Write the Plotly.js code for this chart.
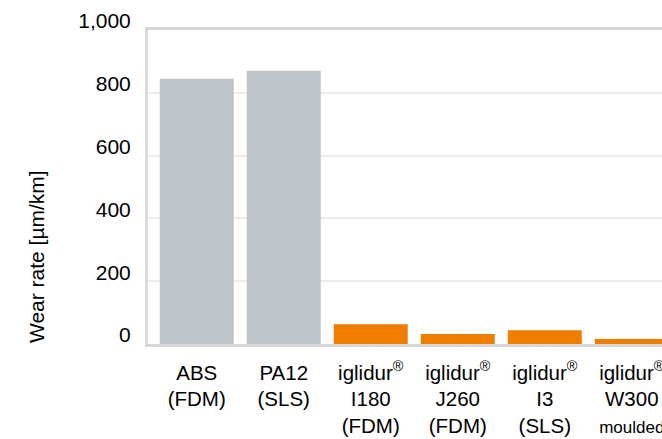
<!DOCTYPE html>
<html>
<head>
<meta charset="utf-8">
<script src="https://cdn.plot.ly/plotly-3.0.1.min.js"></script>
<style>
html, body { margin: 0; padding: 0; overflow: hidden; background: #fff; }
#chart { width: 700px; height: 439px; }
</style>
</head>
<body>
<div id="chart"></div>
<script>
const categories = ["ABS<br>(FDM)", "PA12<br>(SLS)", "iglidur<sup>®</sup><br>I180<br>(FDM)", "iglidur<sup>®</sup><br>J260<br>(FDM)", "iglidur<sup>®</sup><br>I3<br>(SLS)", "iglidur<sup>®</sup><br>W300<br><span style=\"font-size:17px\">moulded</span>"];
const wearRate = [845, 870, 63, 32, 44, 16];
const barColors = ["#bec3c7", "#bec3c7", "#ef7d00", "#ef7d00", "#ef7d00", "#ef7d00"];
const yTickVals = [0, 200, 400, 600, 800, 1000];

const trace = {
  type: "bar",
  x: categories,
  y: wearRate,
  marker: { color: barColors },
  hoverinfo: "none"
};

const font = { family: "Liberation Sans, Arial, sans-serif", size: 21, color: "#000" };

const layout = {
  width: 700,
  height: 439,
  margin: { l: 148, r: 16, t: 30, b: 95 },
  paper_bgcolor: "#fff",
  plot_bgcolor: "#fff",
  font: font,
  bargap: 0.15,
  showlegend: false,
  xaxis: {
    type: "category",
    range: [-0.56, 5.6],
    showline: true,
    mirror: true,
    linecolor: "#d6d6d6",
    linewidth: 3,
    showgrid: false,
    zeroline: false,
    ticks: "",
    ticklabelstandoff: 8,
    tickfont: { family: font.family, size: 20.5, color: "#000" },
    fixedrange: true
  },
  yaxis: {
    range: [0, 1000],
    tickvals: yTickVals,
    tickformat: ",",
    showline: true,
    mirror: true,
    linecolor: "#dcdcdc",
    linewidth: 3,
    showgrid: true,
    gridcolor: "#ececec",
    gridwidth: 2,
    zeroline: false,
    ticks: "",
    ticklabelstandoff: 10,
    ticklabelshift: -9,
    tickfont: { family: font.family, size: 21, color: "#000" },
    fixedrange: true
  },
  annotations: [{
    text: "Wear rate [µm/km]",
    textangle: -90,
    xref: "paper", yref: "paper",
    x: -0.209, y: 0.28,
    xanchor: "center", yanchor: "middle",
    showarrow: false,
    font: { family: font.family, size: 21, color: "#000" }
  }]
};

Plotly.newPlot("chart", [trace], layout, { displayModeBar: false, staticPlot: true });
</script>
</body>
</html>
